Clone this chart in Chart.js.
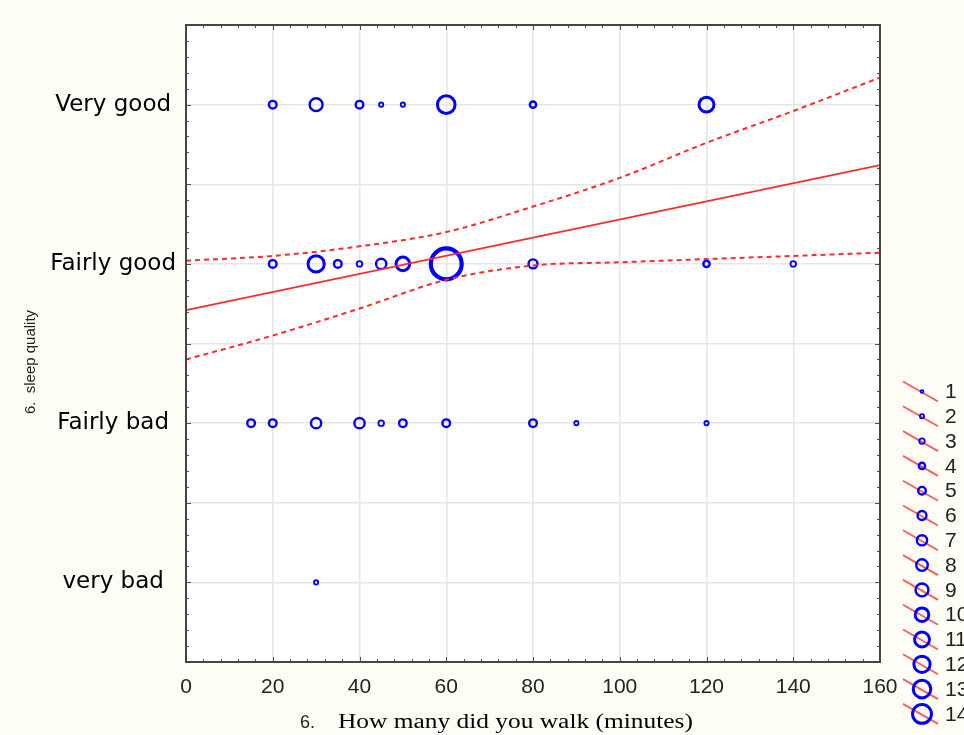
<!DOCTYPE html>
<html lang="en">
<head>
<meta charset="UTF-8">
<title>Sleep quality vs walking time</title>
<script src="https://cdn.jsdelivr.net/npm/chart.js@4"></script>
<style>
  html, body { margin: 0; padding: 0; background: #fffef6; }
  #wrap { width: 964px; height: 735px; }
</style>
</head>
<body>
<div id="wrap"><canvas id="walkChart" width="964" height="735"></canvas></div>
<script>
// sleep quality levels, 1 = very bad ... 4 = very good
const qualityLabels = ['very bad', 'Fairly bad', 'Fairly good', 'Very good'];

// observed answers: minutes walked and how many people gave that answer
const veryGoodMinutes = [20, 30, 40, 45, 50, 60, 80, 120];
const veryGoodCounts = [5, 9, 5, 2, 2, 13, 4, 11];
const fairlyGoodMinutes = [20, 30, 35, 40, 45, 50, 60, 80, 120, 140];
const fairlyGoodCounts = [5, 12, 5, 3, 7, 10, 24, 6, 4, 3];
const fairlyBadMinutes = [15, 20, 30, 40, 45, 50, 60, 80, 90, 120];
const fairlyBadCounts = [5, 5, 7, 7, 3, 5, 5, 5, 2, 2];
const veryBadMinutes = [30];
const veryBadCounts = [2];

// regression line and its 95% band
const fitMinutes = [0, 160];
const fitValues = [2.71, 3.62];
const bandMinutes = [0, 20, 40, 60, 80, 100, 120, 140, 160];
const bandUpper = [3.02, 3.05, 3.11, 3.20, 3.36, 3.54, 3.76, 3.96, 4.17];
const bandLower = [2.40, 2.55, 2.72, 2.90, 2.99, 3.01, 3.03, 3.05, 3.07];

// frequency legend entries
const legendCounts = [1, 2, 3, 4, 5, 6, 7, 8, 9, 10, 11, 12, 13, 14];

const BLUE = '#0000ff';
const RED = '#ff2a2a';

// marker look for a given frequency
function borderFor(n) {
    if (n <= 3) return 1.8;
    if (n <= 9) return 2.4;
    if (n <= 14) return 3;
    return 4.2;
}
function radiusFor(n) {
    return 1.7 + 0.66 * n - borderFor(n) / 2;
}

function points(minutes, counts, level) {
    return minutes.map((m, i) => ({ x: m, y: level, n: counts[i] }));
}
const observed = []
    .concat(points(veryGoodMinutes, veryGoodCounts, 4))
    .concat(points(fairlyGoodMinutes, fairlyGoodCounts, 3))
    .concat(points(fairlyBadMinutes, fairlyBadCounts, 2))
    .concat(points(veryBadMinutes, veryBadCounts, 1));

// cream page, white plot area
const backdrop = {
    id: 'backdrop',
    beforeDraw(chart) {
        const { ctx, chartArea: a } = chart;
        ctx.save();
        ctx.fillStyle = '#fffef6';
        ctx.fillRect(0, 0, chart.width, chart.height);
        ctx.fillStyle = '#ffffff';
        ctx.fillRect(a.left, a.top, a.right - a.left, a.bottom - a.top);
        ctx.restore();
    }
};

// frame with inward ticks on all four sides, axis titles, frequency legend
const decorations = {
    id: 'decorations',
    afterDraw(chart) {
        const { ctx, chartArea: a } = chart;
        const xs = chart.scales.x, ys = chart.scales.y;
        ctx.save();
        ctx.strokeStyle = '#505050';
        ctx.lineWidth = 1;
        ctx.beginPath();
        for (let v = 0; v <= 160; v += 4) {
            const px = Math.round(xs.getPixelForValue(v)) + 0.5;
            const len = v % 20 === 0 ? 5 : 3;
            ctx.moveTo(px, a.bottom); ctx.lineTo(px, a.bottom - len);
            ctx.moveTo(px, a.top); ctx.lineTo(px, a.top + len);
        }
        for (let k = 5; k <= 45; k++) {
            const py = Math.round(ys.getPixelForValue(k / 10)) + 0.5;
            const len = k % 5 === 0 ? 5 : 3;
            ctx.moveTo(a.left, py); ctx.lineTo(a.left + len, py);
            ctx.moveTo(a.right, py); ctx.lineTo(a.right - len, py);
        }
        ctx.stroke();
        ctx.lineWidth = 2;
        ctx.strokeStyle = '#454545';
        ctx.strokeRect(a.left, a.top, a.right - a.left, a.bottom - a.top);

        // x title: number in sans, question in a stretched serif
        ctx.fillStyle = '#222';
        ctx.textBaseline = 'alphabetic';
        ctx.textAlign = 'left';
        ctx.font = '18px "Liberation Sans", Arial, sans-serif';
        ctx.fillText('6.', 300, 728);
        ctx.save();
        ctx.translate(338, 728);
        ctx.scale(1.27, 1);
        ctx.fillStyle = '#000';
        ctx.font = '20px "Liberation Serif", "Times New Roman", serif';
        ctx.fillText('How many did you walk (minutes)', 0, 0);
        ctx.restore();

        // y title
        ctx.save();
        ctx.translate(35, 362);
        ctx.rotate(-Math.PI / 2);
        ctx.textAlign = 'center';
        ctx.fillStyle = '#222';
        ctx.font = '15px "Liberation Sans", Arial, sans-serif';
        ctx.fillText('6.  sleep quality', 0, 0);
        ctx.restore();

        // legend
        legendCounts.forEach((n, i) => {
            const cx = 922, cy = 391.5 + i * 24.8;
            ctx.strokeStyle = '#ff5a5a';
            ctx.lineWidth = 1.8;
            ctx.beginPath();
            ctx.moveTo(cx - 19, cy - 10);
            ctx.lineTo(cx + 16, cy + 10);
            ctx.stroke();
            ctx.strokeStyle = BLUE;
            ctx.lineWidth = borderFor(n);
            ctx.beginPath();
            ctx.arc(cx, cy, radiusFor(n), 0, Math.PI * 2);
            ctx.stroke();
            ctx.fillStyle = '#222';
            ctx.font = '21px "Liberation Sans", Arial, sans-serif';
            ctx.textAlign = 'left';
            ctx.textBaseline = 'middle';
            ctx.fillText(String(n), 945, cy + 1);
        });
        ctx.restore();
    }
};

const ctx = document.getElementById('walkChart').getContext('2d');
new Chart(ctx, {
    type: 'scatter',
    data: {
        datasets: [
            {
                label: 'fit',
                data: fitMinutes.map((m, i) => ({ x: m, y: fitValues[i] })),
                showLine: true,
                borderColor: RED,
                borderWidth: 1.8,
                pointRadius: 0,
                order: 0
            },
            {
                label: 'upper 95%',
                data: bandMinutes.map((m, i) => ({ x: m, y: bandUpper[i] })),
                showLine: true,
                borderColor: RED,
                borderWidth: 2,
                borderDash: [5, 4],
                cubicInterpolationMode: 'monotone',
                pointRadius: 0,
                order: 1
            },
            {
                label: 'lower 95%',
                data: bandMinutes.map((m, i) => ({ x: m, y: bandLower[i] })),
                showLine: true,
                borderColor: RED,
                borderWidth: 2,
                borderDash: [5, 4],
                cubicInterpolationMode: 'monotone',
                pointRadius: 0,
                order: 2
            },
            {
                label: 'answers',
                data: observed,
                pointStyle: 'circle',
                backgroundColor: 'rgba(0,0,0,0)',
                borderColor: BLUE,
                pointBorderWidth: c => borderFor(c.raw.n),
                pointRadius: c => radiusFor(c.raw.n),
                pointHoverRadius: c => radiusFor(c.raw.n),
                order: 3
            }
        ]
    },
    options: {
        responsive: false,
        animation: false,
        layout: { padding: { top: 25, right: 84, left: 0, bottom: 0 } },
        plugins: {
            legend: { display: false },
            tooltip: { enabled: false }
        },
        scales: {
            x: {
                type: 'linear',
                min: 0,
                max: 160,
                ticks: {
                    stepSize: 20,
                    padding: 13,
                    color: '#222',
                    font: { family: '"Liberation Sans Narrow", "Liberation Sans", Arial', size: 21 }
                },
                grid: { color: '#e6e6e6', lineWidth: 1.5, drawTicks: false },
                border: { display: false },
                afterFit: s => { s.height = 73; }
            },
            y: {
                type: 'linear',
                min: 0.5,
                max: 4.5,
                ticks: {
                    stepSize: 0.5,
                    padding: 10,
                    crossAlign: 'center',
                    color: '#000',
                    font: { family: '"DejaVu Sans", Arial', size: 23 },
                    callback: v => Number.isInteger(v) ? qualityLabels[v - 1] : ''
                },
                grid: { color: '#e6e6e6', lineWidth: 1.5, drawTicks: false },
                border: { display: false },
                afterFit: s => { s.width = 186; }
            }
        }
    },
    plugins: [backdrop, decorations]
});
</script>
</body>
</html>
